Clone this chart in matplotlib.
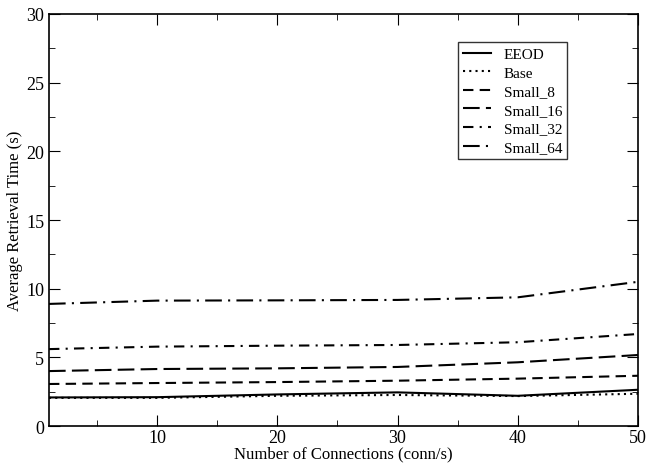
import matplotlib.pyplot as plt
from matplotlib.ticker import MultipleLocator

plt.rcParams['font.family'] = ['Liberation Serif', 'DejaVu Serif']

# data
conns = [1, 10, 20, 30, 40, 50]
eeod = [2.08, 2.1, 2.3, 2.45, 2.2, 2.64]
base = [2.05, 2.05, 2.2, 2.26, 2.18, 2.35]
small_8 = [3.06, 3.13, 3.2, 3.3, 3.45, 3.66]
small_16 = [4.0, 4.15, 4.2, 4.3, 4.64, 5.17]
small_32 = [5.6, 5.78, 5.85, 5.9, 6.1, 6.7]
small_64 = [8.89, 9.13, 9.15, 9.18, 9.37, 10.5]

fig = plt.figure(figsize=(6.47, 4.64), dpi=100)
ax = fig.add_axes([0.0757, 0.0797, 0.9103, 0.888])

lw = 1.5
ax.plot(conns, eeod, color='black', lw=lw, linestyle='-', label='EEOD')
ax.plot(conns, base, color='black', lw=lw, linestyle=(0, (1, 2)), label='Base')
ax.plot(conns, small_8, color='black', lw=lw, linestyle=(0, (5, 3)), label='Small_8')
ax.plot(conns, small_16, color='black', lw=lw, linestyle=(0, (8, 3)), label='Small_16')
ax.plot(conns, small_32, color='black', lw=lw, linestyle=(0, (5, 3, 1, 3)), label='Small_32')
ax.plot(conns, small_64, color='black', lw=lw, linestyle=(0, (8, 3, 1, 3)), label='Small_64')

ax.set_xlim(1, 50)
ax.set_ylim(0, 30)
ax.xaxis.set_major_locator(MultipleLocator(10))
ax.xaxis.set_minor_locator(MultipleLocator(5))
ax.yaxis.set_major_locator(MultipleLocator(5))
ax.yaxis.set_minor_locator(MultipleLocator(2.5))
ax.tick_params(which='both', direction='in', top=True, right=True, labelsize=13)
ax.tick_params(which='major', length=8)
ax.tick_params(which='minor', length=4)
ax.tick_params(axis='x', pad=2)
for s in ax.spines.values():
    s.set_linewidth(1.2)

ax.set_xlabel('Number of Connections (conn/s)', fontsize=12, labelpad=0)
ax.set_ylabel('Average Retrieval Time (s)', fontsize=12, labelpad=2)

leg = ax.legend(loc='upper left', bbox_to_anchor=(0.694, 0.932), fontsize=11,
                frameon=True, fancybox=False, handlelength=1.8,
                labelspacing=0.32, borderpad=0.35, borderaxespad=0,
                handletextpad=0.85)
leg.get_frame().set_edgecolor('black')
leg.get_frame().set_linewidth(1.0)

fig.savefig('out.png', dpi=100)
